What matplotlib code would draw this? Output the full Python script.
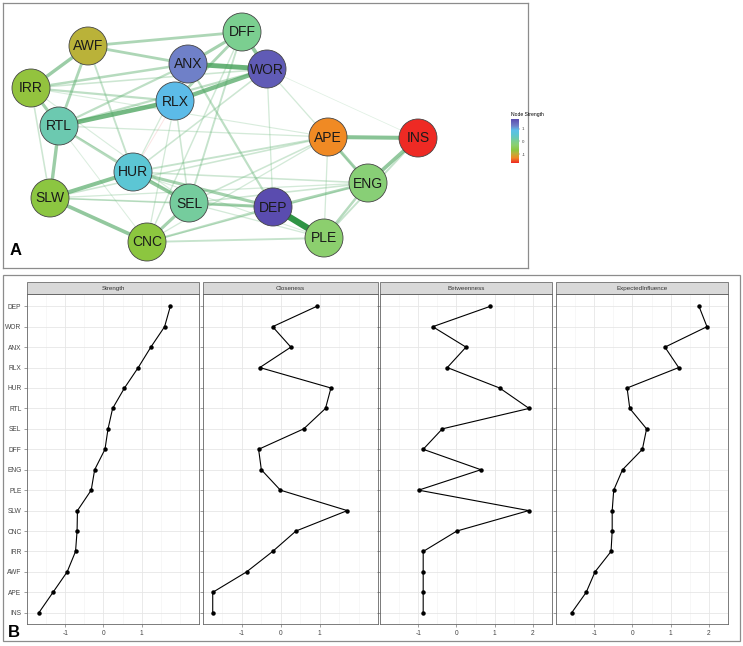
import numpy as np
import matplotlib
matplotlib.use("Agg")
import matplotlib.pyplot as plt
from matplotlib.patches import Rectangle, Circle
from matplotlib.colors import LinearSegmentedColormap, Normalize, to_rgb

plt.rcParams['font.family'] = ['Liberation Sans', 'DejaVu Sans']
plt.rcParams['axes.unicode_minus'] = False

# ---- data ----
nodes = ['DEP', 'WOR', 'ANX', 'RLX', 'HUR', 'RTL', 'SEL', 'DFF',
         'ENG', 'PLE', 'SLW', 'CNC', 'IRR', 'AWF', 'APE', 'INS']

strength = [1.75, 1.60, 1.24, 0.91, 0.55, 0.24, 0.12, 0.04,
            -0.23, -0.32, -0.68, -0.69, -0.73, -0.95, -1.32, -1.69]
closeness = [0.93, -0.21, 0.26, -0.54, 1.29, 1.15, 0.59, -0.57,
             -0.50, -0.01, 1.71, 0.39, -0.21, -0.88, -1.75, -1.75]
betweenness = [0.89, -0.62, 0.25, -0.24, 1.13, 1.90, -0.37, -0.87,
               0.64, -0.99, 1.89, 0.01, -0.87, -0.87, -0.87, -0.87]
expected_influence = [1.74, 1.95, 0.85, 1.21, -0.14, -0.07, 0.37, 0.26,
                      -0.26, -0.49, -0.53, -0.53, -0.56, -0.98, -1.21, -1.59]

# network layout
layout_x = [273, 267, 188, 175, 133, 59, 189, 242, 368, 324, 50, 147, 31, 88, 328, 418]
layout_y = [207, 69, 64, 101, 172, 126, 203, 32, 183, 238, 198, 242, 88, 46, 137, 138]

# edges: (from, to, weight); negative = red edge
edges = [
    ('DEP', 'PLE', 1.0), ('ANX', 'WOR', 0.75), ('RTL', 'RLX', 0.7), ('RLX', 'WOR', 0.65),
    ('DFF', 'WOR', 0.55), ('APE', 'INS', 0.6), ('INS', 'ENG', 0.55), ('SLW', 'HUR', 0.6),
    ('SLW', 'CNC', 0.55), ('HUR', 'SEL', 0.55), ('HUR', 'DEP', 0.45), ('SEL', 'DEP', 0.45),
    ('RTL', 'SLW', 0.5), ('IRR', 'RTL', 0.45), ('IRR', 'AWF', 0.5), ('AWF', 'RTL', 0.4),
    ('AWF', 'DFF', 0.4), ('AWF', 'ANX', 0.4), ('ANX', 'DFF', 0.45), ('RLX', 'DFF', 0.4),
    ('APE', 'ENG', 0.45), ('ENG', 'PLE', 0.35), ('DEP', 'ENG', 0.4), ('CNC', 'SEL', 0.45),
    ('CNC', 'PLE', 0.25), ('CNC', 'DEP', 0.3), ('RTL', 'HUR', 0.35), ('IRR', 'ANX', 0.35),
    ('IRR', 'RLX', 0.3), ('IRR', 'WOR', 0.2), ('RTL', 'ANX', 0.3), ('RTL', 'WOR', 0.3),
    ('AWF', 'HUR', 0.25), ('ANX', 'DEP', 0.3), ('DFF', 'SEL', 0.25), ('DFF', 'CNC', 0.18),
    ('WOR', 'DEP', 0.15), ('WOR', 'INS', 0.06), ('APE', 'HUR', 0.25), ('APE', 'SLW', 0.2),
    ('APE', 'SEL', 0.2), ('APE', 'RTL', 0.15), ('APE', 'PLE', 0.15), ('APE', 'CNC', 0.15),
    ('RLX', 'CNC', 0.15), ('RLX', 'SEL', 0.2), ('IRR', 'SLW', 0.2), ('IRR', 'SEL', 0.12),
    ('IRR', 'APE', 0.12), ('SLW', 'SEL', 0.2), ('SLW', 'DEP', 0.15), ('SLW', 'ENG', 0.15),
    ('HUR', 'ENG', 0.2), ('HUR', 'PLE', 0.12), ('CNC', 'ENG', 0.15), ('SEL', 'ENG', 0.2),
    ('SEL', 'PLE', 0.15), ('RTL', 'SEL', 0.12), ('RTL', 'CNC', 0.1), ('PLE', 'INS', 0.25),
    ('WOR', 'HUR', 0.2), ('ANX', 'HUR', 0.15), ('WOR', 'ENG', 0.15), ('RLX', 'HUR', -0.1),
]

W, H = 743, 646


def box(x0, y0, x1, y1):
    return [x0 / W, 1 - y1 / H, (x1 - x0) / W, (y1 - y0) / H]


fig = plt.figure(figsize=(W / 100, H / 100), dpi=100)

# ---- panel A: network ----
cmap = LinearSegmentedColormap.from_list('strength', [
    (0.00, '#ee2a24'), (0.11, '#f08a24'), (0.22, '#b8b43a'), (0.29, '#8cc63f'),
    (0.40, '#8ccf6e'), (0.50, '#7ccf8f'), (0.56, '#6cc9b0'), (0.65, '#5cc6d4'),
    (0.75, '#5bbfea'), (0.85, '#6f80c8'), (1.00, '#5a4caf')])
norm = Normalize(vmin=-1.7, vmax=1.76)

axA = fig.add_axes(box(3, 3, 528, 268))
axA.set_xlim(3, 528)
axA.set_ylim(268, 3)
axA.set_xticks([])
axA.set_yticks([])
for s in axA.spines.values():
    s.set_color('#8c8c8c')
    s.set_linewidth(0.9)

pos = {n: (x, y) for n, x, y in zip(nodes, layout_x, layout_y)}
light = np.array(to_rgb('#cfeed6'))
dark = np.array(to_rgb('#2e9444'))
for a, b, w in sorted(edges, key=lambda e: abs(e[2])):
    (x0, y0), (x1, y1) = pos[a], pos[b]
    aw = abs(w)
    if w < 0:
        col = '#f2a0a0'
    else:
        col = light + (dark - light) * min(1, 0.45 + 0.55 * aw)
    axA.plot([x0, x1], [y0, y1], color=col, lw=(0.4 + 6.0 * aw) * 0.72,
             alpha=0.2 + 0.8 * aw, solid_capstyle='butt', zorder=1)

for n, v in zip(nodes, strength):
    x, y = pos[n]
    axA.add_patch(Circle((x, y), 19, facecolor=cmap(norm(v)), edgecolor='#444444',
                         lw=0.6, zorder=3))
    axA.text(x, y + 0.5, n, ha='center', va='center', fontsize=10, color='#1a1a1a', zorder=4)

axA.text(10, 258, 'A', fontsize=12, fontweight='bold', ha='left', va='bottom')

# colour legend
axC = fig.add_axes(box(511, 119, 519, 163))
grad = np.linspace(1.76, -1.7, 100).reshape(-1, 1)
axC.imshow(grad, aspect='auto', cmap=cmap, norm=norm, extent=[0, 1, -1.7, 1.76])
axC.set_xticks([])
axC.yaxis.tick_right()
axC.set_yticks([1, 0, -1])
axC.set_yticklabels(['1', '0', '-1'])
axC.tick_params(axis='y', labelsize=3.2, length=1, width=0.3, pad=1, colors='#444444')
for s in axC.spines.values():
    s.set_visible(False)
axC.set_title('Node Strength', fontsize=3.6, pad=2, loc='left')

# ---- panel B: centrality ----
fig.patches.append(Rectangle((3 / W, 1 - 641 / H), 737 / W, 366 / H, transform=fig.transFigure,
                             fill=False, edgecolor='#8c8c8c', lw=0.9))

measures = [('Strength', strength), ('Closeness', closeness),
            ('Betweenness', betweenness), ('ExpectedInfluence', expected_influence)]
lefts = [27, 203, 380, 556]
rights = [199, 378, 552, 728]
yy = np.arange(len(nodes))

for k, (title, vals) in enumerate(measures):
    ax = fig.add_axes(box(lefts[k], 294, rights[k], 624))
    ax.plot(vals, yy, color='black', lw=0.8, marker='o', markersize=2.2, zorder=3)
    ax.set_ylim(len(nodes) - 0.45, -0.6)
    ax.margins(x=0.05)
    ax.set_yticks(yy)
    if k == 0:
        ax.set_yticklabels(nodes)
    else:
        ax.set_yticklabels([])
    lo, hi = min(vals), max(vals)
    ax.set_xticks([t for t in range(-2, 3) if lo - 0.2 <= t <= hi + 0.2])
    ax.set_xticks(np.arange(-2, 2.6, 0.5), minor=True)
    ax.grid(which='major', color='#e6e6e6', lw=0.6)
    ax.grid(which='minor', axis='x', color='#f2f2f2', lw=0.4)
    ax.set_axisbelow(True)
    ax.tick_params(axis='both', which='major', labelsize=4.8, length=2, width=0.4,
                   colors='#555555', labelcolor='#444444', pad=2)
    ax.tick_params(which='minor', length=0)
    for s in ax.spines.values():
        s.set_color('#666666')
        s.set_linewidth(0.6)
    ax.add_patch(Rectangle((0, 1), 1, 12 / 330, transform=ax.transAxes, clip_on=False,
                           facecolor='#d9d9d9', edgecolor='#555555', lw=0.5))
    ax.text(0.5, 1 + 6 / 330, title, transform=ax.transAxes, ha='center', va='center',
            fontsize=4.5, color='#333333')

fig.text(8 / W, 1 - 640 / H, 'B', fontsize=12, fontweight='bold', ha='left', va='bottom')

fig.savefig('out.png', dpi=100)
